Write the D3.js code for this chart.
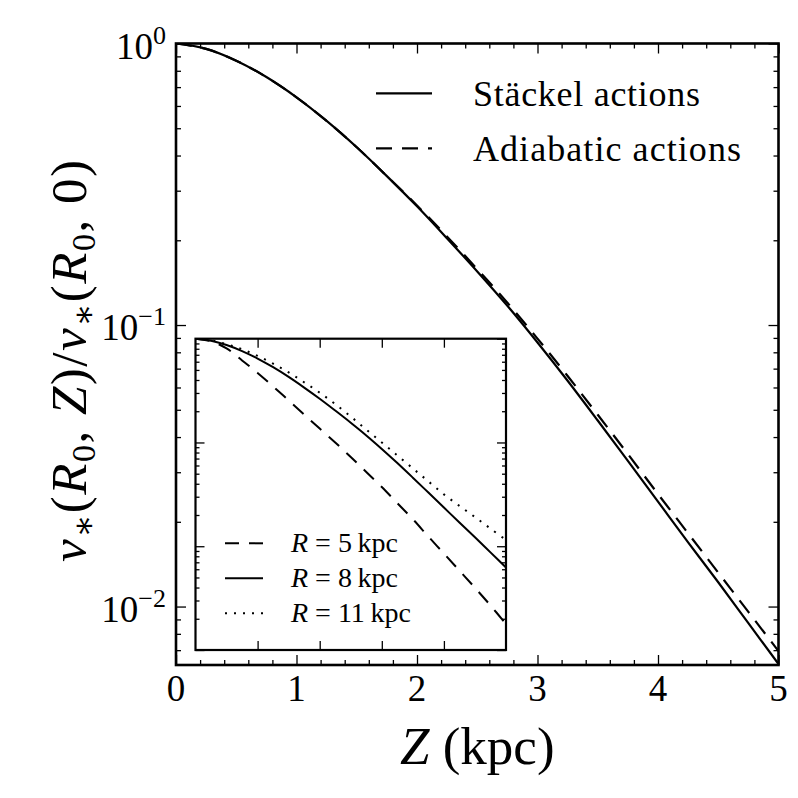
<!DOCTYPE html>
<html>
<head>
<meta charset="utf-8">
<script src="https://cdn.jsdelivr.net/npm/d3@7"></script>
<style>
  html, body { margin: 0; padding: 0; background: #fff; }
  svg { display: block; }
  text { font-family: "Liberation Serif", "DejaVu Serif", serif; fill: #000; }
</style>
</head>
<body>
<svg id="chart" width="798" height="798"></svg>
<script>
// ---------------- data ----------------
const zValues = [0, 0.25, 0.5, 0.75, 1, 1.25, 1.5, 1.75, 2, 2.25, 2.5, 2.75, 3, 3.25, 3.5, 3.75, 4, 4.25, 4.5, 4.75, 5];
const staeckel = [1, 0.957, 0.869, 0.760, 0.644, 0.531, 0.428, 0.338, 0.264, 0.203, 0.155, 0.117, 0.0867, 0.0634, 0.0458, 0.0329, 0.0236, 0.0169, 0.0122, 0.00873, 0.00625];
const adiabatic = [1, 0.957, 0.869, 0.760, 0.644, 0.531, 0.428, 0.338, 0.266, 0.206, 0.158, 0.120, 0.0895, 0.0659, 0.0480, 0.0348, 0.0251, 0.0182, 0.0132, 0.00957, 0.00695];
const insetR5 = [1, 0.944, 0.807, 0.617, 0.468, 0.347, 0.254, 0.186, 0.136, 0.100, 0.0724, 0.0519, 0.0372, 0.0260, 0.0182, 0.0124, 0.00851, 0.00582, 0.00398, 0.00269, 0.00178];
const insetR8 = [1, 0.957, 0.869, 0.760, 0.644, 0.531, 0.428, 0.338, 0.264, 0.203, 0.155, 0.117, 0.0867, 0.0634, 0.0458, 0.0329, 0.0236, 0.0169, 0.0122, 0.00873, 0.00625];
const insetR11 = [1, 0.966, 0.887, 0.791, 0.684, 0.575, 0.473, 0.380, 0.302, 0.234, 0.178, 0.133, 0.100, 0.075, 0.0562, 0.0422, 0.0316, 0.0245, 0.0191, 0.0148, 0.0115];

const xMajorTicks = [0, 1, 2, 3, 4, 5];
const xTickLabels = ["0", "1", "2", "3", "4", "5"];
const yMajorTicks = [1, 0.1, 0.01];
const yTickExponents = ["0", "\u22121", "\u22122"];
const mainLegend = ["Stäckel actions", "Adiabatic actions"];
const insetLegendR = ["5", "8", "11"];

// ---------------- layout ----------------
const svg = d3.select("#chart");
const M = { left: 176, right: 778.5, top: 43.5, bottom: 665 };
const I = { left: 195.5, right: 506, top: 338.7, bottom: 650 };

const x = d3.scaleLinear().domain([0, 5]).range([M.left, M.right]);
const y = d3.scaleLog().domain([0.0062, 1]).range([M.bottom, M.top]);
const xi = d3.scaleLinear().domain([0, 5]).range([I.left, I.right]);
const yi = d3.scaleLog().domain([0.001, 1]).range([I.bottom, I.top]);

svg.append("defs").append("clipPath").attr("id", "clipMain")
  .append("rect").attr("x", M.left).attr("y", M.top).attr("width", M.right - M.left).attr("height", M.bottom - M.top);
svg.select("defs").append("clipPath").attr("id", "clipInset")
  .append("rect").attr("x", I.left).attr("y", I.top).attr("width", I.right - I.left).attr("height", I.bottom - I.top);

function ticksAxis(g, axis) {
  g.call(axis);
  g.select(".domain").remove();
  g.selectAll(".tick line").attr("stroke", "#000").attr("stroke-width", 1.3);
  g.selectAll(".tick text").remove();
}

// main ticks
const xMinor = d3.range(0, 5.0001, 0.2).filter(v => Math.abs(v - Math.round(v)) > 1e-6);
const yAll = y.ticks().filter(v => v >= 0.0062 && v <= 1);
const yMinor = yAll.filter(v => !yMajorTicks.some(m => Math.abs(m - v) / m < 1e-6));

const gm = svg.append("g");
ticksAxis(gm.append("g").attr("transform", `translate(0,${M.bottom})`), d3.axisBottom(x).tickValues(xMajorTicks).tickSize(-10));
ticksAxis(gm.append("g").attr("transform", `translate(0,${M.bottom})`), d3.axisBottom(x).tickValues(xMinor).tickSize(-5));
ticksAxis(gm.append("g").attr("transform", `translate(0,${M.top})`), d3.axisTop(x).tickValues(xMajorTicks).tickSize(-10));
ticksAxis(gm.append("g").attr("transform", `translate(0,${M.top})`), d3.axisTop(x).tickValues(xMinor).tickSize(-5));
ticksAxis(gm.append("g").attr("transform", `translate(${M.left},0)`), d3.axisLeft(y).tickValues(yMajorTicks).tickSize(-10));
ticksAxis(gm.append("g").attr("transform", `translate(${M.left},0)`), d3.axisLeft(y).tickValues(yMinor).tickSize(-5));
ticksAxis(gm.append("g").attr("transform", `translate(${M.right},0)`), d3.axisRight(y).tickValues(yMajorTicks).tickSize(-10));
ticksAxis(gm.append("g").attr("transform", `translate(${M.right},0)`), d3.axisRight(y).tickValues(yMinor).tickSize(-5));

// x tick labels
gm.append("g").selectAll("text").data(xMajorTicks).join("text")
  .attr("x", d => x(d)).attr("y", M.bottom + 36)
  .attr("text-anchor", "middle").attr("font-size", 37)
  .text((d, i) => xTickLabels[i]);

// y tick labels
const ytl = gm.append("g").selectAll("text").data(yMajorTicks).join("text")
  .attr("x", 166).attr("y", d => y(d) + 15)
  .attr("text-anchor", "end").attr("font-size", 37);
ytl.append("tspan").text("10");
ytl.append("tspan").attr("font-size", 26).attr("dy", -15).text((d, i) => yTickExponents[i]);

// main curves
const line = (xs, ys) => d3.line().x((d, i) => xs(zValues[i])).y(d => ys(d)).curve(d3.curveCatmullRom.alpha(0.5));
const gc = svg.append("g").attr("clip-path", "url(#clipMain)");
gc.append("path").datum(staeckel).attr("d", line(x, y)).attr("fill", "none").attr("stroke", "#000").attr("stroke-width", 2.2);
gc.append("path").datum(adiabatic).attr("d", line(x, y)).attr("fill", "none").attr("stroke", "#000").attr("stroke-width", 2.2).attr("stroke-dasharray", "16,10");

// frame
svg.append("rect").attr("x", M.left).attr("y", M.top).attr("width", M.right - M.left).attr("height", M.bottom - M.top)
  .attr("fill", "none").attr("stroke", "#000").attr("stroke-width", 2.6);

// main legend
const lg = svg.append("g");
const legY = [93.3, 148.3];
const legDash = [null, "16,10"];
const legWidth = [227, 268];
lg.selectAll("line").data(mainLegend).join("line")
  .attr("x1", 376).attr("x2", 432).attr("y1", (d, i) => legY[i]).attr("y2", (d, i) => legY[i])
  .attr("stroke", "#000").attr("stroke-width", 2.2).attr("stroke-dasharray", (d, i) => legDash[i]);
lg.selectAll("text").data(mainLegend).join("text")
  .attr("x", 473).attr("y", (d, i) => legY[i] + 13).attr("font-size", 36)
  .attr("textLength", (d, i) => legWidth[i]).attr("lengthAdjust", "spacing").text(d => d);

// axis labels
const xl = svg.append("text").attr("x", (M.left + M.right) / 2).attr("y", 764)
  .attr("text-anchor", "middle").attr("font-size", 53);
xl.append("tspan").attr("font-style", "italic").text("Z");
xl.append("tspan").text(" (kpc)");

const yl = svg.append("text").attr("transform", `translate(86,${(M.top + M.bottom) / 2 + 6}) rotate(-90)`)
  .attr("text-anchor", "middle").attr("font-size", 51).attr("letter-spacing", 1.5);
const parts = [
  ["ν", "i"], ["∗", "sub"], ["(", ""], ["R", "i"], ["0", "sub"], [", ", ""], ["Z", "i"], [")/", ""],
  ["ν", "i"], ["∗", "sub"], ["(", ""], ["R", "i"], ["0", "sub"], [", 0)", ""]
];
let shifted = false;
parts.forEach(([t, k]) => {
  const ts = yl.append("tspan").text(t);
  if (k === "i") ts.attr("font-style", "italic");
  if (k === "sub") { ts.attr("font-size", 34).attr("dy", 9); shifted = true; }
  else if (shifted) { ts.attr("dy", -9); shifted = false; }
});

// ---------------- inset ----------------
svg.append("rect").attr("x", I.left).attr("y", I.top).attr("width", I.right - I.left).attr("height", I.bottom - I.top)
  .attr("fill", "#fff");
const xiMajor = [1, 2, 3, 4];
const yiAll = yi.ticks().filter(v => v >= 0.001 && v <= 1);
const yiMajorVals = [1, 0.1, 0.01, 0.001];
const yiMinor = yiAll.filter(v => !yiMajorVals.some(m => Math.abs(m - v) / m < 1e-6));
const gi = svg.append("g");
ticksAxis(gi.append("g").attr("transform", `translate(0,${I.bottom})`), d3.axisBottom(xi).tickValues(xiMajor).tickSize(-9));
ticksAxis(gi.append("g").attr("transform", `translate(0,${I.top})`), d3.axisTop(xi).tickValues(xiMajor).tickSize(-9));
ticksAxis(gi.append("g").attr("transform", `translate(${I.left},0)`), d3.axisLeft(yi).tickValues(yiMajorVals).tickSize(-9));
ticksAxis(gi.append("g").attr("transform", `translate(${I.left},0)`), d3.axisLeft(yi).tickValues(yiMinor).tickSize(-4));
ticksAxis(gi.append("g").attr("transform", `translate(${I.right},0)`), d3.axisRight(yi).tickValues(yiMajorVals).tickSize(-9));
ticksAxis(gi.append("g").attr("transform", `translate(${I.right},0)`), d3.axisRight(yi).tickValues(yiMinor).tickSize(-4));

const gic = svg.append("g").attr("clip-path", "url(#clipInset)");
const insetSeries = [insetR5, insetR8, insetR11];
const insetDash = ["14,10", null, "2,7"];
insetSeries.forEach((s, k) => {
  gic.append("path").datum(s).attr("d", line(xi, yi)).attr("fill", "none")
    .attr("stroke", "#000").attr("stroke-width", 2).attr("stroke-dasharray", insetDash[k]);
});
svg.append("rect").attr("x", I.left).attr("y", I.top).attr("width", I.right - I.left).attr("height", I.bottom - I.top)
  .attr("fill", "none").attr("stroke", "#000").attr("stroke-width", 2.2);

// inset legend
const ilY = [543.3, 578.3, 613.3];
const ilWidth = [108, 108, 123];
const il = svg.append("g");
il.selectAll("line").data(insetLegendR).join("line")
  .attr("x1", 225).attr("x2", 263).attr("y1", (d, i) => ilY[i]).attr("y2", (d, i) => ilY[i])
  .attr("stroke", "#000").attr("stroke-width", 2).attr("stroke-dasharray", (d, i) => insetDash[i]);
const ilt = il.selectAll("text").data(insetLegendR).join("text")
  .attr("x", 291).attr("y", (d, i) => ilY[i] + 9).attr("font-size", 28);
ilt.append("tspan").attr("font-style", "italic").text("R");
ilt.append("tspan").text(d => ` = ${d}\u2009kpc`);
</script>
</body>
</html>
